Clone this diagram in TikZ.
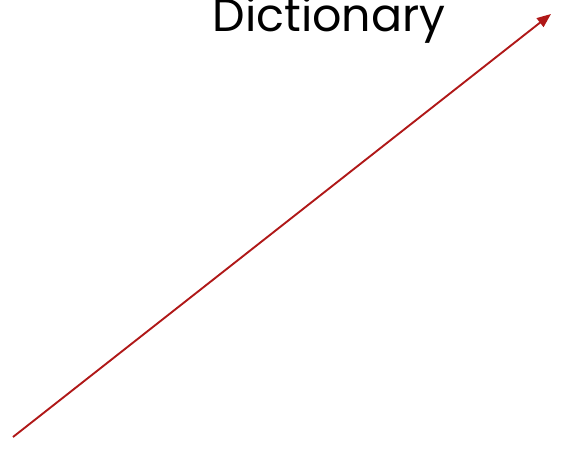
\documentclass[tikz,border=0pt]{standalone}
\usepackage{fontspec}
\setmainfont{Poppins}
\usetikzlibrary{arrows.meta}
\definecolor{arrred}{HTML}{B01818}
\begin{document}
\begin{tikzpicture}[x=1pt,y=-1pt]
\useasboundingbox (0,0) rectangle (563,448);
\node[anchor=base, font=\fontsize{46}{46}\selectfont, inner sep=0pt] (title) at (329,31) {Dictionary};
\coordinate (start) at (13,437);
\coordinate (tip) at (551,14);
\draw[arrred, line width=1.9pt, -{Triangle[length=14pt,width=11pt]}] (start) -- (tip);
\end{tikzpicture}
\end{document}
